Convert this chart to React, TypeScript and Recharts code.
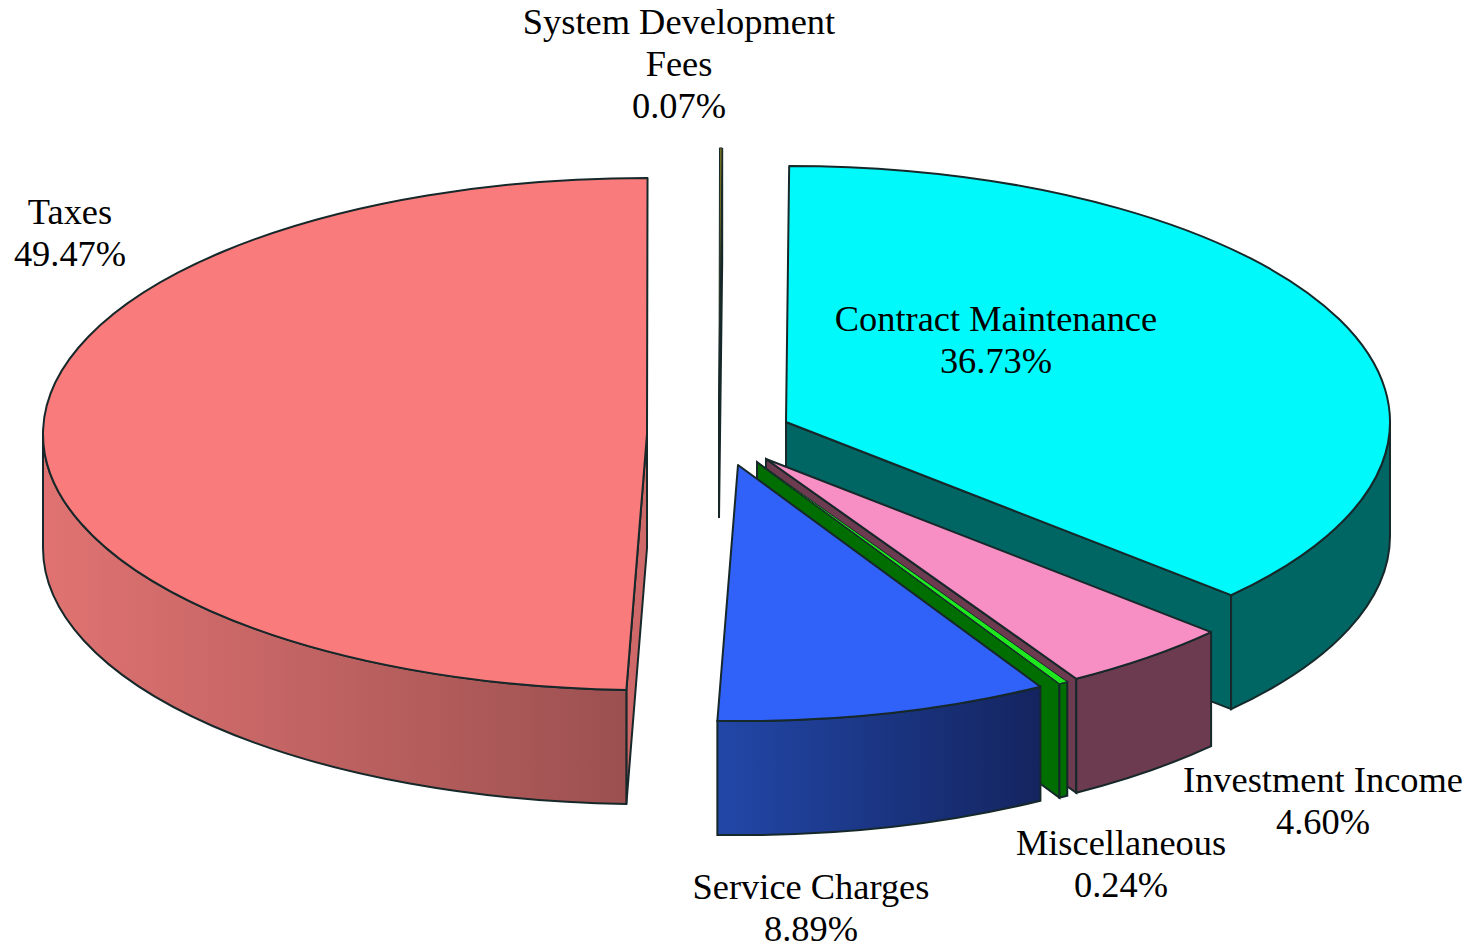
import React from 'react';
import { PieChart, Pie } from 'recharts';

const categories = ['System Development\nFees', 'Contract Maintenance', 'Investment Income', 'Miscellaneous', 'Service Charges', 'Taxes'];
const shares = [0.07, 36.73, 4.6, 0.24, 8.89, 49.47];

const topColors = ['#6E6A1E', '#00FAFB', '#F88FC4', '#1FE81F', '#3061F8', '#F97B7B'];
const cutColors = ['#1C1C10', '#006664', '#6C3B50', '#006E00', '#1C3C90', '#CF6868'];
const wallFrom = ['#3A3A14', '#006664', '#6C3B50', '#006E00', '#2247A8', '#E07372'];
const wallTo = ['#3A3A14', '#006664', '#6C3B50', '#006E00', '#14245F', '#9C5050'];

// how far each slice is pulled out of the pie
const pullX = [19, 86, 66, 57, 38, -53];
const pullY = [-26, -8, 29, 32, 35, 4];
// label centre and first baseline
const labelX = [679, 996, 1323, 1121, 811, 70];
const labelY = [34, 331, 792, 855, 899, 224];

const CX = 700;
const CY = 430;
const RADIUS = 604;
const TILT = 0.424;
const DEPTH = 114;
const EDGE = '#16282A';
const EDGE_WIDTH = 2;

const data = categories.map((name, i) => ({ name, value: shares[i] }));
const rad = (d: number) => (d * Math.PI) / 180;

const Slice = (props: any) => {
  const { outerRadius: r, startAngle, endAngle } = props;
  const i = categories.indexOf(props.payload?.name ?? props.name);
  const ax = props.cx + pullX[i];
  const ay = props.cy + pullY[i];
  const ry = r * TILT;
  // clockwise degrees from twelve o'clock
  const cs = 90 - startAngle;
  const ce = 90 - endAngle;
  const pt = (cw: number, dy = 0) => {
    const a = rad(90 - cw);
    return `${ax + r * Math.cos(a)} ${ay - ry * Math.sin(a) + dy}`;
  };
  const cut = (cw: number) =>
    `M${ax} ${ay} L${pt(cw)} L${pt(cw, DEPTH)} L${ax} ${ay + DEPTH} Z`;
  const from = Math.max(cs, 90);
  const to = Math.min(ce, 270);
  const gid = `wall-${i}`;
  return (
    <g>
      <defs>
        <linearGradient id={gid} x1="0" y1="0" x2="1" y2="0">
          <stop offset="0" stopColor={wallFrom[i]} />
          <stop offset="1" stopColor={wallTo[i]} />
        </linearGradient>
      </defs>
      {Math.sin(rad(cs)) < 0 && <path d={cut(cs)} fill={cutColors[i]} stroke={EDGE} strokeWidth={EDGE_WIDTH} />}
      {Math.sin(rad(ce)) > 0.001 && <path d={cut(ce)} fill={cutColors[i]} stroke={EDGE} strokeWidth={EDGE_WIDTH} />}
      {to > from && (
        <path
          d={`M${pt(from)} A${r} ${ry} 0 0 1 ${pt(to)} L${pt(to, DEPTH)} A${r} ${ry} 0 0 0 ${pt(from, DEPTH)} Z`}
          fill={`url(#${gid})`}
          stroke={EDGE}
          strokeWidth={EDGE_WIDTH}
        />
      )}
      <path
        d={`M${ax} ${ay} L${pt(cs)} A${r} ${ry} 0 ${ce - cs > 180 ? 1 : 0} 1 ${pt(ce)} Z`}
        fill={topColors[i]}
        stroke={EDGE}
        strokeWidth={i === 0 || i === 3 ? 1 : EDGE_WIDTH}
        strokeLinejoin="round"
      />
    </g>
  );
};

const SliceLabel = (props: any) => {
  const i = categories.indexOf(props.payload?.name ?? props.name);
  const lines = [...categories[i].split('\n'), `${shares[i].toFixed(2)}%`];
  return (
    <text x={labelX[i]} y={labelY[i]} textAnchor="middle" fontFamily="'Liberation Serif', serif" fontSize={36.4} fill="#000">
      {lines.map((line, k) => (
        <tspan key={k} x={labelX[i]} dy={k === 0 ? 0 : 42}>
          {line}
        </tspan>
      ))}
    </text>
  );
};

export default function App() {
  return (
    <div style={{ position: 'absolute', left: 0, top: 0, width: 1475, height: 945, background: '#fff' }}>
      <PieChart width={1475} height={945} margin={{ top: 0, right: 0, bottom: 0, left: 0 }}>
        <Pie
          data={data}
          dataKey="value"
          nameKey="name"
          cx={CX}
          cy={CY}
          innerRadius={0}
          outerRadius={RADIUS}
          startAngle={89.95}
          endAngle={-270.05}
          paddingAngle={0}
          shape={Slice}
          activeShape={Slice}
          inactiveShape={Slice}
          label={SliceLabel}
          labelLine={false}
          isAnimationActive={false}
        />
      </PieChart>
    </div>
  );
}
